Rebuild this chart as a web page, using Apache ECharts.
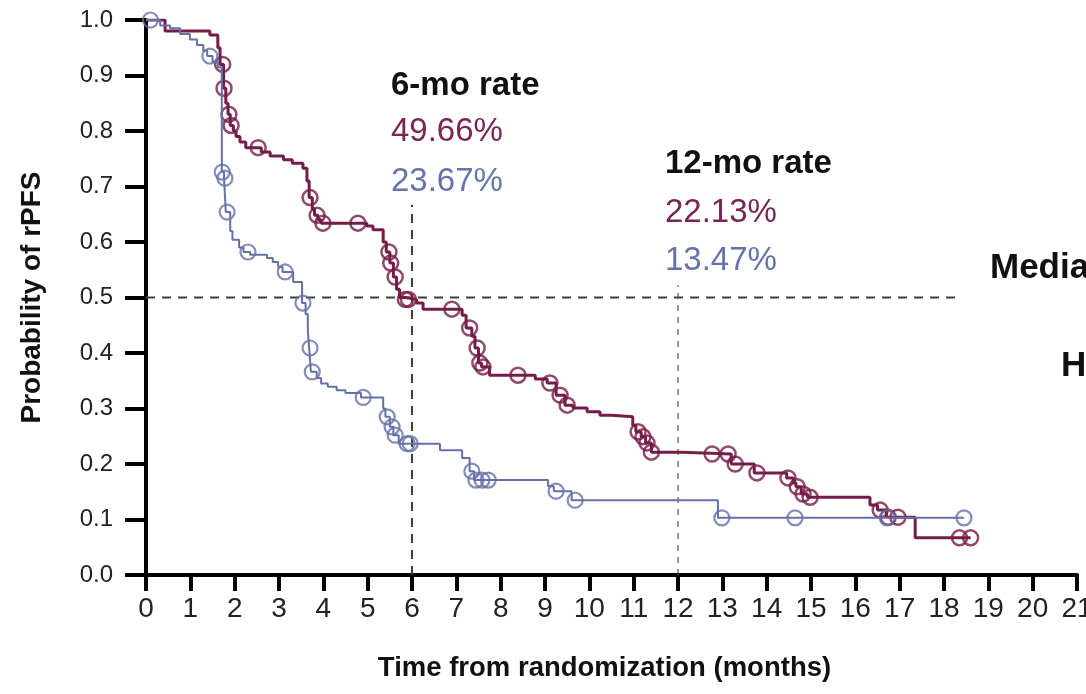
<!DOCTYPE html>
<html>
<head>
<meta charset="utf-8">
<script src="https://cdn.jsdelivr.net/npm/echarts@6/dist/echarts.min.js"></script>
<style>
html,body{margin:0;padding:0;background:#fff;}
#chart{width:1086px;height:694px;}
</style>
</head>
<body>
<div id="chart"></div>
<script>
// ---- Data (months, survival probability) ----
var xTicks = [0,1,2,3,4,5,6,7,8,9,10,11,12,13,14,15,16,17,18,19,20,21];
var yTicks = [0,0.1,0.2,0.3,0.4,0.5,0.6,0.7,0.8,0.9,1.0];

// Treatment arm (maroon) KM steps
var armA_steps = [
  [0,1.0],[0.43,0.98],[1.44,0.973],[1.62,0.95],[1.67,0.92],[1.75,0.877],[1.8,0.85],
  [1.85,0.83],[1.9,0.81],[1.97,0.80],[2.03,0.79],[2.12,0.78],[2.25,0.77],[2.6,0.762],
  [2.8,0.755],[3.1,0.748],[3.3,0.742],[3.54,0.733],[3.63,0.71],[3.68,0.68],[3.75,0.66],
  [3.8,0.648],[3.88,0.64],[3.95,0.634],[4.98,0.629],[5.12,0.622],[5.35,0.6],[5.42,0.582],
  [5.5,0.562],[5.58,0.537],[5.65,0.515],[5.72,0.5],[5.85,0.4966],[6.1,0.49],[6.25,0.479],
  [7.13,0.468],[7.22,0.445],[7.35,0.43],[7.42,0.409],[7.5,0.382],[7.57,0.375],[7.75,0.36],
  [8.78,0.353],[9.05,0.346],[9.25,0.324],[9.45,0.306],[9.63,0.301],[9.95,0.294],
  [10.24,0.288],[10.5,0.285],[10.98,0.27],[11.05,0.258],[11.17,0.249],[11.27,0.238],
  [11.4,0.2213],[12.1,0.218],[13.2,0.2],[13.72,0.184],[14.45,0.175],[14.6,0.166],
  [14.66,0.159],[14.78,0.146],[14.92,0.14],[16.33,0.126],[16.5,0.117],[16.7,0.104],
  [17.35,0.067],[18.6,0.067]
];
var armA_censor = [
  [1.73,0.92],[1.76,0.877],[1.87,0.83],[1.92,0.81],[2.53,0.77],[3.7,0.68],[3.86,0.648],
  [3.99,0.634],[4.78,0.634],[5.48,0.582],[5.52,0.562],[5.62,0.537],[5.85,0.4966],[5.92,0.4966],
  [6.9,0.479],[7.3,0.445],[7.47,0.409],[7.53,0.382],[7.6,0.375],[8.39,0.36],[9.11,0.346],
  [9.34,0.324],[9.5,0.306],[11.1,0.258],[11.21,0.249],[11.3,0.238],[11.4,0.2213],
  [12.77,0.218],[13.13,0.218],[13.29,0.2],[13.78,0.184],[14.48,0.175],[14.69,0.159],
  [14.82,0.146],[14.98,0.14],[16.56,0.117],[16.74,0.104],[16.96,0.104],[18.35,0.067],[18.6,0.067]
];

// Control arm (blue) KM steps
var armB_steps = [
  [0,1.0],[0.32,0.99],[0.54,0.985],[0.77,0.975],[0.99,0.965],[1.15,0.955],[1.29,0.945],
  [1.38,0.935],[1.5,0.925],[1.62,0.915],[1.71,0.726],[1.76,0.715],[1.8,0.654],[1.9,0.62],
  [1.95,0.604],[2.1,0.59],[2.2,0.582],[2.35,0.577],[2.73,0.571],[2.86,0.564],[2.98,0.555],
  [3.08,0.546],[3.32,0.528],[3.52,0.49],[3.6,0.47],[3.65,0.44],[3.68,0.409],[3.72,0.366],
  [3.85,0.355],[3.95,0.345],[4.1,0.339],[4.3,0.333],[4.5,0.328],[4.85,0.32],[5.35,0.3],
  [5.4,0.285],[5.5,0.267],[5.58,0.252],[5.7,0.2367],[6.63,0.225],[7.13,0.211],[7.3,0.187],
  [7.4,0.171],[9.07,0.16],[9.2,0.151],[9.6,0.1347],[12.9,0.103],[18.45,0.103]
];
var armB_censor = [
  [0.1,1.0],[1.44,0.935],[1.72,0.726],[1.78,0.715],[1.83,0.654],[2.3,0.582],[3.14,0.546],
  [3.54,0.49],[3.7,0.409],[3.75,0.366],[4.9,0.32],[5.44,0.285],[5.55,0.267],[5.62,0.252],
  [5.89,0.2367],[5.96,0.2367],[7.35,0.187],[7.44,0.171],[7.58,0.171],[7.72,0.171],
  [9.25,0.151],[9.68,0.1347],[12.99,0.103],[14.64,0.103],[16.72,0.103],[18.45,0.103]
];

// Reference lines
var medianRef = [[0,0.5],[18.35,0.5]];
var sixMoRef = [[6,0],[6,0.667]];
var twelveMoRef = [[12,0],[12,0.522]];

// Annotation texts
var sixMoLabel = '6-mo rate';
var sixMoA = '49.66%';
var sixMoB = '23.67%';
var twelveMoLabel = '12-mo rate';
var twelveMoA = '22.13%';
var twelveMoB = '13.47%';
var medianLabel = 'Median';
var hrLabel = 'HR';

var colA = '#751c49';
var colB = '#6471a6';
var textA = '#7a2654';
var textB = '#6573ab';
var refCol = '#2d4a2d';
var narrow = '"Liberation Sans Narrow","Arial Narrow","Liberation Sans",Arial,sans-serif';
var sans = '"Liberation Sans",Arial,sans-serif';

var chart = echarts.init(document.getElementById('chart'), null, {renderer:'canvas'});
var option = {
  backgroundColor: '#fff',
  animation: false,
  grid: {left:146, right:9, top:20, bottom:119, containLabel:false, outerBoundsMode:'none'},
  xAxis: {
    type:'value', min:0, max:21, interval:1,
    name:'Time from randomization (months)', nameLocation:'middle', nameGap:79,
    nameTextStyle:{fontFamily:sans, fontWeight:'bold', fontSize:27.5, color:'#111', padding:[0,14,0,0]},
    axisLine:{show:true, onZero:false, lineStyle:{color:'#000', width:4}},
    axisTick:{show:true, length:16, lineStyle:{color:'#000', width:4}},
    axisLabel:{margin:20, fontFamily:narrow, fontSize:28, color:'#222', hideOverlap:false,
      formatter:function(v){ return xTicks.indexOf(v)>=0 ? String(v) : ''; }},
    splitLine:{show:false}
  },
  yAxis: {
    type:'value', min:0, max:1, interval:0.1,
    name:'Probability of rPFS', nameLocation:'middle', nameGap:100,
    nameTextStyle:{fontFamily:sans, fontWeight:'bold', fontSize:28, color:'#111'},
    axisLine:{show:true, lineStyle:{color:'#000', width:4}},
    axisTick:{show:true, length:21, lineStyle:{color:'#000', width:4}},
    axisLabel:{margin:33, fontFamily:sans, fontSize:24, color:'#222',
      formatter:function(v){ return v.toFixed(1); }},
    splitLine:{show:false}
  },
  series: [
    {type:'line', data:medianRef, symbol:'none', silent:true,
      lineStyle:{color:refCol, width:2, type:[9,7]}, z:1},
    {type:'line', data:sixMoRef, symbol:'none', silent:true,
      lineStyle:{color:refCol, width:2, type:[9,7]}, z:1},
    {type:'line', data:twelveMoRef, symbol:'none', silent:true,
      lineStyle:{color:'#4a5e4a', width:1.2, type:[6,6]}, z:1},
    {type:'line', data:armA_steps, step:'end', symbol:'none',
      lineStyle:{color:colA, width:3}, z:2},
    {type:'scatter', data:armA_censor, symbol:'circle', symbolSize:15,
      itemStyle:{color:'rgba(0,0,0,0)', borderColor:colA, borderWidth:2.5}, z:3},
    {type:'line', data:armB_steps, step:'end', symbol:'none',
      lineStyle:{color:colB, width:2}, z:4},
    {type:'scatter', data:armB_censor, symbol:'circle', symbolSize:15,
      itemStyle:{color:'rgba(0,0,0,0)', borderColor:colB, borderWidth:2.2}, z:5}
  ],
  graphic: [
    {type:'text', left:391, top:69, style:{text:sixMoLabel, font:'bold 33px '+sans, fill:'#111'}},
    {type:'text', left:391, top:115, style:{text:sixMoA, font:'33px '+sans, fill:textA}},
    {type:'text', left:391, top:165, style:{text:sixMoB, font:'33px '+sans, fill:textB}},
    {type:'text', left:665, top:147, style:{text:twelveMoLabel, font:'bold 33px '+sans, fill:'#111'}},
    {type:'text', left:665, top:196, style:{text:twelveMoA, font:'33px '+sans, fill:textA}},
    {type:'text', left:665, top:244, style:{text:twelveMoB, font:'33px '+sans, fill:textB}},
    {type:'text', left:990, top:251, style:{text:medianLabel, font:'bold 35px '+sans, fill:'#111'}},
    {type:'text', left:1061, top:349, style:{text:hrLabel, font:'bold 35px '+sans, fill:'#111'}}
  ]
};
chart.setOption(option);
</script>
</body>
</html>
